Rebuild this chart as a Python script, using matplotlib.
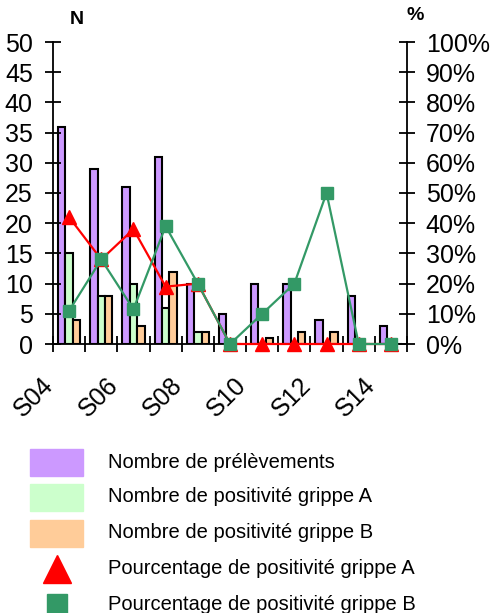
import numpy as np
import matplotlib
matplotlib.use("Agg")
import matplotlib.pyplot as plt
from matplotlib.patches import Rectangle
from matplotlib.ticker import FuncFormatter

plt.rcParams["font.family"] = ["Liberation Sans", "DejaVu Sans"]

weeks = ["S04", "S05", "S06", "S07", "S08", "S09", "S10", "S11", "S12", "S13", "S14"]
prelevements = [36, 29, 26, 31, 10, 5, 10, 10, 4, 8, 3]
positifs_a = [15, 8, 10, 6, 2, 0, 0, 0, 0, 0, 0]
positifs_b = [4, 8, 3, 12, 2, 0, 1, 2, 2, 0, 0]
pct_a = [0.42, 0.28, 0.38, 0.19, 0.20, 0.0, 0.0, 0.0, 0.0, 0.0, 0.0]
pct_b = [0.11, 0.28, 0.115, 0.39, 0.20, 0.0, 0.10, 0.20, 0.50, 0.0, 0.0]

legend_labels = [
    "Nombre de prélèvements",
    "Nombre de positivité grippe A",
    "Nombre de positivité grippe B",
    "Pourcentage de positivité grippe A",
    "Pourcentage de positivité grippe B",
]

c_prel = "#CC99FF"
c_a = "#CCFFCC"
c_b = "#FFCC99"
c_pa = "#FF0000"
c_pb = "#339966"

W, H = 492, 613
fig = plt.figure(figsize=(W / 100, H / 100), dpi=100)
ax = fig.add_axes([53 / W, 1 - 344 / H, (407 - 53) / W, (344 - 42) / H])
ax2 = ax.twinx()

x = np.arange(len(weeks))
bw = 0.23
kw = dict(width=bw, edgecolor="black", linewidth=1.5, zorder=2)
ax.bar(x - bw, prelevements, color=c_prel, **kw)
ax.bar(x, positifs_a, color=c_a, **kw)
ax.bar(x + bw, positifs_b, color=c_b, **kw)

ax2.plot(x, pct_a, color=c_pa, lw=1.6, marker="^", ms=10, mec=c_pa, zorder=3, clip_on=False)
ax2.plot(x, pct_b, color=c_pb, lw=1.6, marker="s", ms=8, mec=c_pb, zorder=4, clip_on=False)

ax.set_xlim(-0.5, len(weeks) - 0.5)
ax.set_ylim(0, 50)
ax2.set_ylim(0, 1)
ax.set_yticks(np.arange(0, 51, 5))
ax2.set_yticks(np.arange(0, 1.01, 0.1))
ax2.yaxis.set_major_formatter(FuncFormatter(lambda v, p: f"{v * 100:.0f}%"))

# tick marks at category boundaries, labels every other week
ax.set_xticks(np.arange(len(weeks) + 1) - 0.5)
ax.set_xticklabels([])
ax.set_xticks(x[::2] - 0.34, minor=True)
ax.set_xticklabels(weeks[::2], minor=True, rotation=45, ha="right", va="top")

for a in (ax, ax2):
    a.spines["top"].set_visible(False)
    a.tick_params(which="major", direction="inout", length=11, width=1.3, labelsize=18)
ax.spines["right"].set_visible(False)
ax2.spines["left"].set_visible(False)
ax2.spines["bottom"].set_visible(False)
for s in ("left", "bottom"):
    ax.spines[s].set_linewidth(1.3)
ax2.spines["right"].set_linewidth(1.3)
ax.tick_params(axis="y", pad=9)
ax2.tick_params(axis="y", pad=8)
ax.tick_params(axis="x", which="minor", length=0, pad=21, labelsize=18)
ax.set_axisbelow(False)

fig.text(77 / W, 1 - 20 / H, "N", fontsize=14, fontweight="bold", ha="center", va="center")
fig.text(415 / W, 1 - 16 / H, "%", fontsize=14, fontweight="bold", ha="center", va="center")

# legend drawn in pixel coordinates
lg = fig.add_axes([0, 0, 1, 1])
lg.set_xlim(0, W)
lg.set_ylim(H, 0)
lg.axis("off")
rows = [462, 497, 533, 569, 604]
for yc, col in zip(rows[:3], [c_prel, c_a, c_b]):
    lg.add_patch(Rectangle((30, yc - 13.5), 53, 27, color=col))
lg.plot([56.5], [rows[3]], marker="^", ms=20, color=c_pa)
lg.plot([56.5], [rows[4]], marker="s", ms=15, color=c_pb)
for yc, lab in zip(rows, legend_labels):
    lg.text(108, yc, lab, fontsize=14.5, ha="left", va="center")

fig.savefig("out.png", dpi=100)
